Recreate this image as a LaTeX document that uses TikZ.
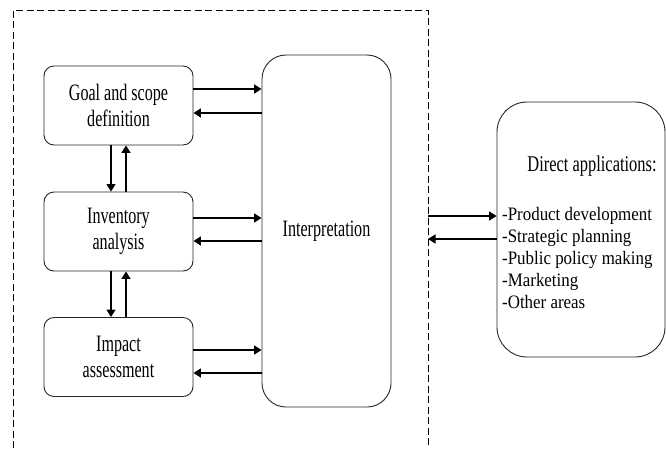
\documentclass[tikz,border=0pt]{standalone}
\usepackage{fontspec}
\usetikzlibrary{arrows.meta}
\newfontfamily\boxfont{Liberation Serif}[FakeStretch=0.685]
\newfontfamily\titlefont{Liberation Serif}[FakeStretch=0.73]
\newfontfamily\listfont{Liberation Serif}[FakeStretch=0.89]
\tikzset{
    stage/.style={draw=black!85, line width=0.9pt, rounded corners=10pt, minimum width=149pt,
        minimum height=79pt, align=center, inner sep=0pt,
        font=\boxfont\fontsize{23.5}{26}\selectfont},
    arr/.style={line width=1.5pt, -{Triangle[length=7.5pt,width=9pt]}},
}
\begin{document}
\begin{tikzpicture}[x=1pt,y=-1pt]
    \useasboundingbox (0,0) rectangle (666,448);
    % dashed frame, open at the bottom
    \coordinate (frameL) at (13,448);
    \coordinate (frameR) at (428,10);
    \draw[dashed, dash pattern=on 7pt off 3.5pt, line width=0.8pt]
        (frameL) -- (13,10) -- (frameR) -- (428,448);

    \node[stage] (goal) at (118.5,105.5) {Goal and scope\\definition};
    \node[stage] (inv) at (118.5,231.5) {Inventory\\analysis};
    \node[stage] (imp) at (118.5,357) {Impact\\assessment};
    \node[stage, rounded corners=24pt, minimum width=129pt, minimum height=352pt]
        (interp) at (326.5,231) {Interpretation};

    \node[draw=black!85, line width=0.9pt, rounded corners=30pt, minimum width=168pt,
        minimum height=255pt] (apps) at (581,229.5) {};
    \node[anchor=base, inner sep=0pt, font=\titlefont\fontsize{22.5}{24}\selectfont]
        (title) at (592,171) {Direct applications:};
    \node[anchor=north west, inner sep=0pt, align=left,
        font=\listfont\fontsize{19}{22}\selectfont] (list) at (502,207)
        {-Product development\\-Strategic planning\\-Public policy making\\-Marketing\\-Other areas};

    % stages <-> interpretation
    \foreach \s/\up/\dn in {goal/16.5/-7.5, inv/13.5/-9.5, imp/7/-16} {
        \draw[arr] ([yshift=\up]\s.east) -- ([yshift=\up]\s.east -| interp.west);
        \draw[arr] ([yshift=\dn]\s.east -| interp.west) -- ([yshift=\dn]\s.east);
    }
    % stage to stage
    \foreach \a/\b in {goal/inv, inv/imp} {
        \draw[arr, line width=1.2pt] ([xshift=-7.5]\a.south) -- ([xshift=-7.5]\b.north);
        \draw[arr] ([xshift=7.5]\b.north) -- ([xshift=7.5]\a.south);
    }
    % frame <-> applications
    \draw[arr] ([yshift=13.5]apps.west -| frameR) -- ([yshift=13.5]apps.west);
    \draw[arr] ([yshift=-9.5]apps.west) -- ([yshift=-9.5]apps.west -| frameR);
\end{tikzpicture}
\end{document}
